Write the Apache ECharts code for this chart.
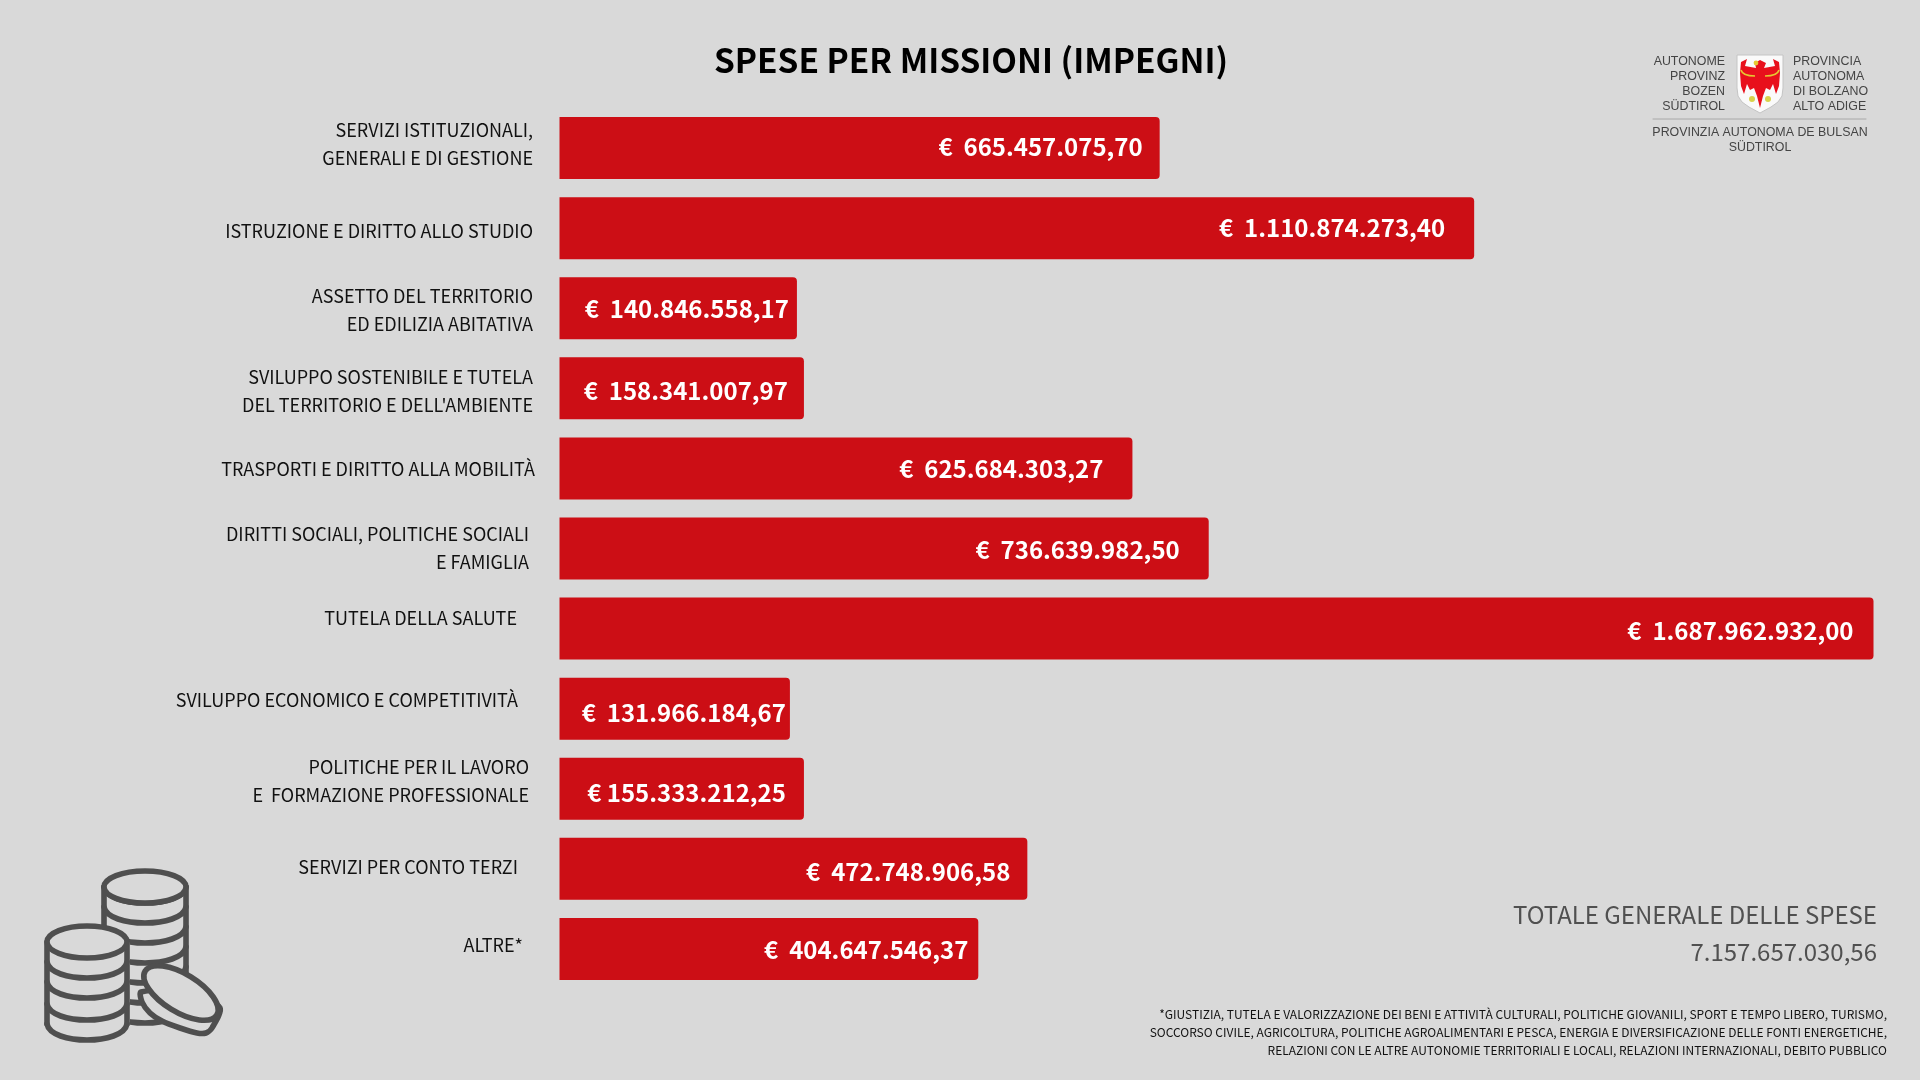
<!DOCTYPE html>
<html><head><meta charset="utf-8">
<style>html,body{margin:0;padding:0;background:#d9d9d9}#c{width:1920px;height:1080px}</style>
<script src="https://cdn.jsdelivr.net/npm/echarts@6/dist/echarts.min.js"></script>
</head><body><div id="c"></div>
<script>
// DATA
const titleText = 'SPESE PER MISSIONI (IMPEGNI)';
const categories = [
  'SERVIZI ISTITUZIONALI,\nGENERALI E DI GESTIONE',
  'ISTRUZIONE E DIRITTO ALLO STUDIO',
  'ASSETTO DEL TERRITORIO\nED EDILIZIA ABITATIVA',
  'SVILUPPO SOSTENIBILE E TUTELA\nDEL TERRITORIO E DELL\'AMBIENTE',
  'TRASPORTI E DIRITTO ALLA MOBILITÀ',
  'DIRITTI SOCIALI, POLITICHE SOCIALI\nE FAMIGLIA',
  'TUTELA DELLA SALUTE',
  'SVILUPPO ECONOMICO E COMPETITIVITÀ',
  'POLITICHE PER IL LAVORO\nE  FORMAZIONE PROFESSIONALE',
  'SERVIZI PER CONTO TERZI',
  'ALTRE*'
];
// printed amounts
const amountLabels = [
  '€  665.457.075,70','€  1.110.874.273,40','€  140.846.558,17','€  158.341.007,97',
  '€  625.684.303,27','€  736.639.982,50','€  1.687.962.932,00','€  131.966.184,67',
  '€ 155.333.212,25','€  472.748.906,58','€  404.647.546,37'
];
// bar lengths as drawn in the picture (the picture's bars are not proportional to the printed amounts),
// in millions on the scale of the longest bar
const drawnLengths = [771, 1175, 305, 314, 736, 834, 1688, 296, 314, 601, 538];
const axisMax = 1688;
const totalLabel = 'TOTALE GENERALE DELLE SPESE';
const totalValue = '7.157.657.030,56';
const footnote = '*GIUSTIZIA, TUTELA E VALORIZZAZIONE DEI BENI E ATTIVITÀ CULTURALI, POLITICHE GIOVANILI, SPORT E TEMPO LIBERO, TURISMO,\nSOCCORSO CIVILE, AGRICOLTURA, POLITICHE AGROALIMENTARI E PESCA, ENERGIA E DIVERSIFICAZIONE DELLE FONTI ENERGETICHE,\nRELAZIONI CON LE ALTRE AUTONOMIE TERRITORIALI E LOCALI, RELAZIONI INTERNAZIONALI, DEBITO PUBBLICO';
const logoLeft = 'AUTONOME\nPROVINZ\nBOZEN\nSÜDTIROL';
const logoRight = 'PROVINCIA\nAUTONOMA\nDI BOLZANO\nALTO ADIGE';
const logoBottom = 'PROVINZIA AUTONOMA DE BULSAN\nSÜDTIROL';

// LAYOUT TWEAKS (text offsets per row, separate from data)
const labelDy = [-3.7, 3.2, 2.4, 2.4, 1, 0, -10, -8.6, -7.3, -1.7, -3.7];
const labelGap = [26, 26, 26, 26, 24, 30, 42, 41, 30, 41, 36];
const valueInset = [17, 29, 8, 16, 29, 29, 20, 4, 18, 17, 10];
const valueDy = [-1, 0, 1, 3, 0, 1, 2, 4, 4, 3, 1];

const FONT = '"Noto Sans CJK SC"';
const RED = '#cc0e15';
const COIN = '#4f4f4f';

const barData = drawnLengths.map((v, i) => ({
  value: v,
  label: { formatter: amountLabels[i], distance: valueInset[i], offset: [0, valueDy[i]] }
}));
// row captions sit on a zero-size companion series so that each can follow its own vertical offset
const captionData = categories.map((c, i) => ({
  value: [0, c],
  label: { formatter: c, distance: labelGap[i], offset: [0, labelDy[i]] }
}));

// decoration helpers
const SW = 5.6;
function ell(cx, cy, rx, ry, fill, rot) {
  return { type: 'ellipse', originX: cx, originY: cy, rotation: rot || 0,
    shape: { cx, cy, rx, ry }, style: { fill: fill || 'none', stroke: COIN, lineWidth: SW } };
}
function band(x1, x2, y, depth) {
  const k = (x2 - x1) * .05;
  return { type: 'bezierCurve', shape: { x1, y1: y - depth, x2, y2: y - depth, cpx1: x1 + k, cpy1: y + depth / 3, cpx2: x2 - k, cpy2: y + depth / 3 },
    style: { fill: 'none', stroke: COIN, lineWidth: SW, lineCap: 'round' } };
}
function seg(x1, y1, x2, y2, w, col) {
  return { type: 'line', shape: { x1, y1, x2, y2 }, style: { stroke: col || COIN, lineWidth: w || SW, lineCap: 'round' } };
}
function txt(x, y, text, size, fill, align, weight, lh, family, vAlign) {
  return { type: 'text', x, y, style: { text, fontSize: size, fill, align, verticalAlign: vAlign || 'middle', fontWeight: weight || 400, lineHeight: lh, fontFamily: family || FONT } };
}

const BG = '#d9d9d9';
const coins = [
  // back stack
  seg(104, 887, 104, 965), seg(186, 887, 186, 1007),
  band(104, 186, 903, 16), band(104, 186, 923, 16), band(104, 186, 943, 16), band(104, 186, 963, 16),
  band(104, 186, 983, 16), band(104, 186, 1003, 16), band(104, 186, 1023, 16),
  ell(145, 887, 41, 16, BG),
  // front stack
  { type: 'rect', shape: { x: 47, y: 942, width: 80, height: 96 }, style: { fill: BG } },
  { type: 'rect', shape: { x: 127, y: 942, width: 3, height: 96 }, style: { fill: BG } },
  seg(47, 942, 47, 1024), seg(127, 942, 127, 1024),
  band(47, 127, 978, 16), band(47, 127, 998, 16), band(47, 127, 1020, 16), band(47, 127, 1040, 16),
  ell(87, 942, 40, 16, BG),
  // fallen coin
  { type: 'polygon', shape: { smooth: 0.25, points: [[141, 992], [142, 1002], [150, 1013], [162, 1021], [180, 1028], [197, 1033], [206, 1033], [212, 1028], [220, 1008], [190, 990]] }, style: { fill: BG, stroke: COIN, lineWidth: SW, lineJoin: 'round' } },
  ell(181, 993, 42, 19, BG, -0.55)
];

const shield = [
  { type: 'polygon', shape: { points: [[1737, 55], [1783, 55], [1783, 88], [1782, 96], [1778, 102], [1771, 107], [1760, 113], [1749, 107], [1742, 102], [1738, 96], [1737, 88]] }, style: { fill: '#fafafa', stroke: '#c4c4c4', lineWidth: 1 } },
  // eagle
  { type: 'polygon', shape: { points: [[1760, 60], [1766, 63], [1764, 68], [1775, 66], [1773, 59], [1779, 62], [1780, 73], [1779, 86], [1776, 94], [1773, 84], [1770, 90], [1766, 88], [1763, 96], [1760, 108], [1757, 96], [1754, 88], [1750, 90], [1747, 84], [1744, 94], [1741, 86], [1740, 73], [1741, 62], [1747, 59], [1745, 66], [1756, 68], [1755, 63]] }, style: { fill: '#e8101c' } },
  { type: 'circle', shape: { cx: 1756, cy: 63, r: 2.4 }, style: { fill: '#e6c832' } },
  { type: 'bezierCurve', shape: { x1: 1741, y1: 70, x2: 1755, y2: 76, cpx1: 1742, cpy1: 74, cpx2: 1748, cpy2: 76 }, style: { fill: 'none', stroke: '#e6c832', lineWidth: 1.6 } },
  { type: 'bezierCurve', shape: { x1: 1779, y1: 70, x2: 1765, y2: 76, cpx1: 1778, cpy1: 74, cpx2: 1772, cpy2: 76 }, style: { fill: 'none', stroke: '#e6c832', lineWidth: 1.6 } },
  { type: 'circle', shape: { cx: 1752, cy: 99, r: 3 }, style: { fill: '#d8d24a' } },
  { type: 'circle', shape: { cx: 1768, cy: 99, r: 3 }, style: { fill: '#d8d24a' } }
];

const LOGOF = '"Liberation Sans"';
const graphicEls = [
  txt(971, 60, titleText, 33.4, '#000000', 'center', 700),
  txt(1725, 84, logoLeft, 12.4, '#444444', 'right', 400, 15, LOGOF),
  txt(1793, 84, logoRight, 12.4, '#444444', 'left', 400, 15, LOGOF),
  seg(1653, 119, 1866, 119, 1, '#a8a8a8'),
  txt(1760, 140, logoBottom, 12.4, '#444444', 'center', 400, 15, LOGOF),
  txt(1877, 915, totalLabel, 24, '#505050', 'right', 400),
  txt(1877, 952, totalValue, 24, '#505050', 'right', 400),
  txt(1887, 1032, footnote, 12, '#111111', 'right', 400, 18)
].concat(shield, coins);

const chart = echarts.init(document.getElementById('c'), null, { renderer: 'canvas' });
chart.setOption({
  animation: false,
  backgroundColor: BG,
  grid: { left: 559.5, top: 108, width: 1314, height: 881, containLabel: false },
  xAxis: { type: 'value', min: 0, max: axisMax, show: false },
  yAxis: {
    type: 'category', inverse: true, data: categories,
    axisLine: { show: false }, axisTick: { show: false }, splitLine: { show: false },
    axisLabel: { show: false }
  },
  series: [{
    type: 'bar', barWidth: 62, data: barData,
    itemStyle: { color: RED, borderRadius: [0, 4, 4, 0] },
    label: { show: true, position: 'insideRight', color: '#ffffff', fontFamily: FONT, fontSize: 24, fontWeight: 700 }
  }, {
    type: 'scatter', symbolSize: 1, data: captionData, silent: true,
    itemStyle: { color: 'rgba(0,0,0,0)', opacity: 1 },
    label: { show: true, position: 'left', color: '#111111', opacity: 1, fontFamily: FONT, fontSize: 18, lineHeight: 28, align: 'right' }
  }],
  graphic: { elements: graphicEls }
});
</script></body></html>
